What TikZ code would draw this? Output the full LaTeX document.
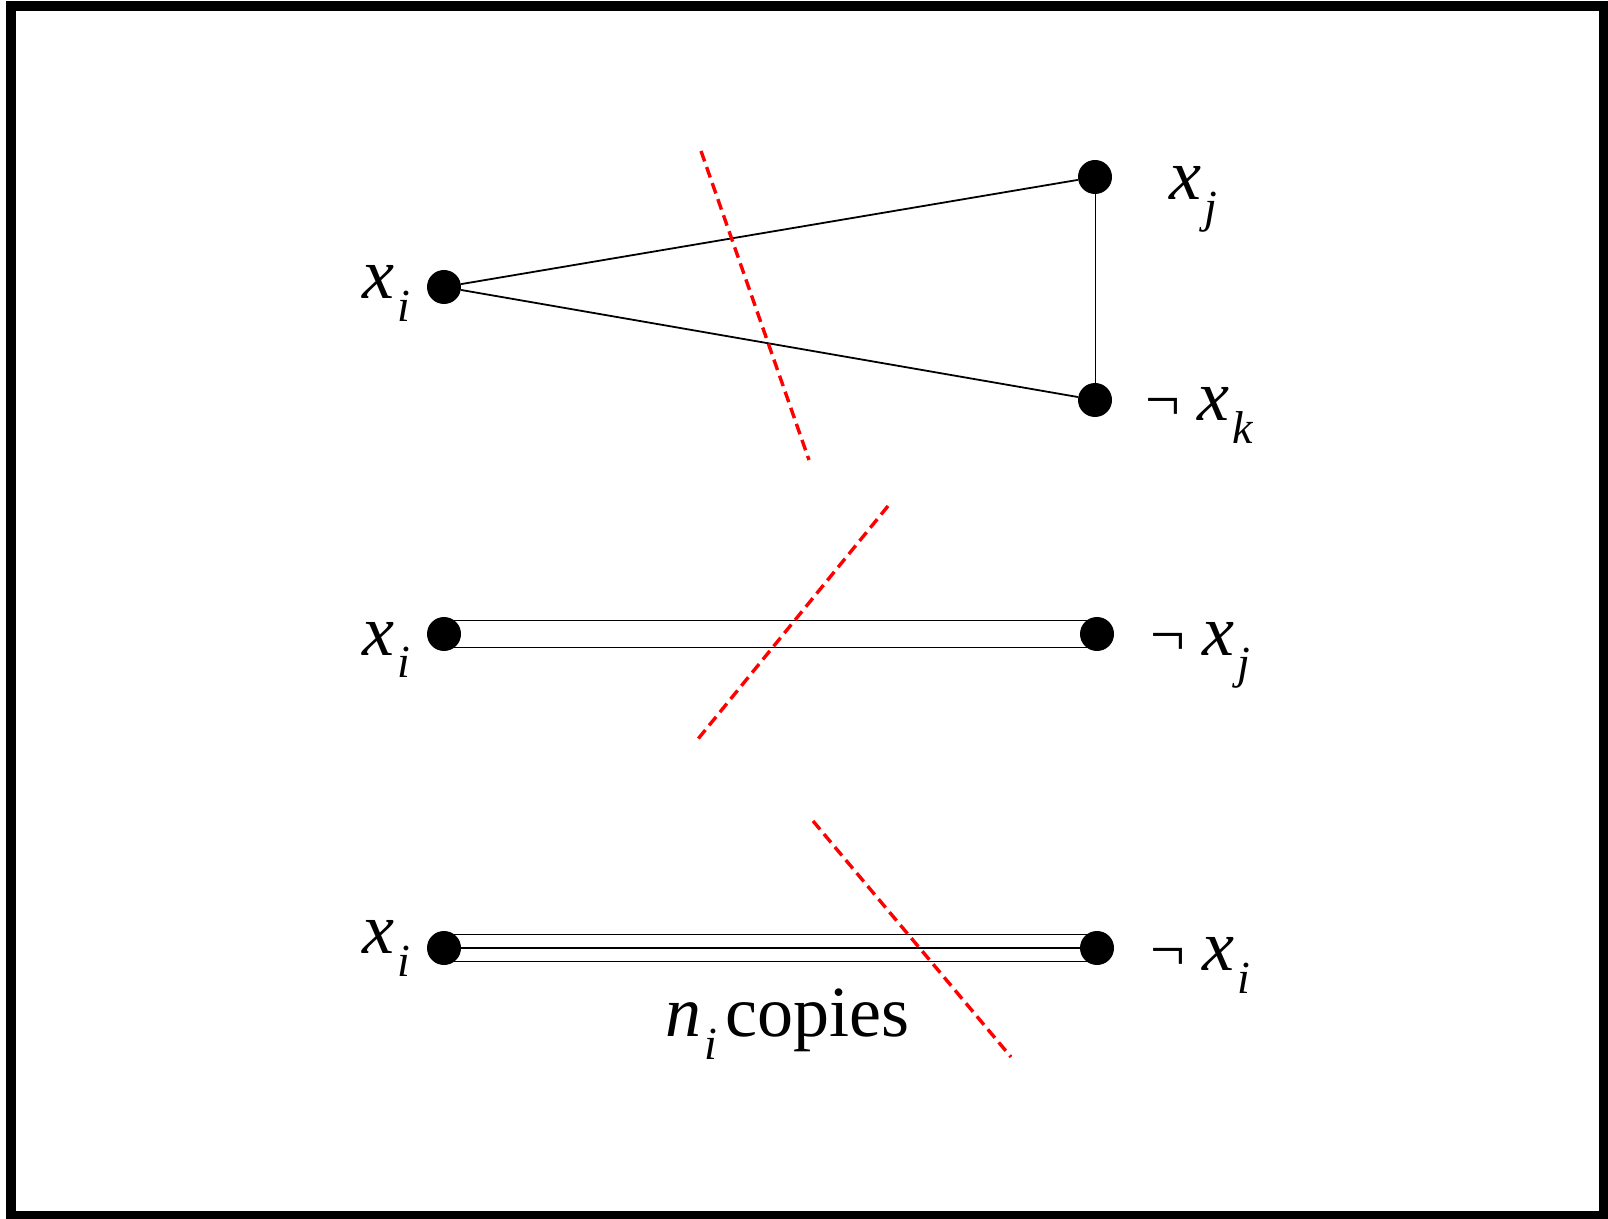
\documentclass[tikz,border=0pt]{standalone}
\usepackage{fontspec}
\setmainfont{Liberation Serif}
\usetikzlibrary{positioning, calc}
\definecolor{cutred}{RGB}{255,0,0}
\tikzset{
  vertex/.style={circle, fill=black, inner sep=0pt, minimum size=17pt},
  edge/.style={line width=0.9pt, color=black},
  thinedge/.style={line width=0.5pt, color=black},
  cut/.style={line width=1.7pt, color=cutred, dash pattern=on 5.5pt off 3pt},
  lbl/.style={anchor=base west, inner sep=0pt, font=\fontsize{36}{40}\selectfont}
}
\newcommand{\varsub}[2]{\textit{#1}\kern1.5pt\raisebox{-11.5pt}{\fontsize{23}{23}\selectfont\textit{#2}}}
\newcommand{\negsym}{{\fontsize{31}{31}\selectfont ¬}\hspace{8.6pt}}

\begin{document}
\begin{tikzpicture}[x=0.5pt, y=-0.5pt]
  \useasboundingbox (0,0) rectangle (1608,1219);
  \draw[line width=5pt] (10.5,6.5) rectangle (1604,1215.5);

  % Place vertices
  \node[vertex] (xa) at (444,287) {};
  \node[vertex] (xb) at (1095,177) {};
  \node[vertex] (xc) at (1095,400) {};
  \node[vertex] (ma) at (444,634) {};
  \node[vertex] (mb) at (1097,634) {};
  \node[vertex] (ba) at (444,948) {};
  \node[vertex] (bb) at (1097,948) {};

  % Labels
  \node[lbl] (lxa) at (362,299) {\varsub{x}{i}};
  \node[lbl] (lxb) at (1169,200) {\varsub{x}{j}};
  \node[lbl] (lxc) at (1145,421) {\negsym\varsub{x}{k}};
  \node[lbl] (lma) at (362,655) {\varsub{x}{i}};
  \node[lbl] (lmb) at (1150,656) {\negsym\varsub{x}{j}};
  \node[lbl] (lba) at (362,953) {\varsub{x}{i}};
  \node[lbl] (lbb) at (1150,970) {\negsym\varsub{x}{i}};
  \node[lbl] (copies) at (665,1036) {\varsub{n}{i}\hspace{4pt}copies};

  % Edges
  \draw[edge] (xa) -- (xb);
  \draw[edge] (xa) -- (xc);
  \draw[thinedge] (xb) -- (xc);
  \foreach \s in {6.75pt,-6.75pt}
    \draw[edge] ([yshift=\s]ma.center) -- ([yshift=\s]mb.center);
  \foreach \s in {6.75pt,0pt,-6.75pt}
    \draw[edge] ([yshift=\s]ba.center) -- ([yshift=\s]bb.center);

  % Cuts
  \coordinate (cut1s) at (701,151);
  \coordinate (cut1e) at (809,460);
  \coordinate (cut2s) at (888,506);
  \coordinate (cut2e) at (698,739);
  \coordinate (cut3s) at (813,821);
  \coordinate (cut3e) at (1011,1057);
  \draw[cut] (cut1s) -- (cut1e);
  \draw[cut] (cut2s) -- (cut2e);
  \draw[cut] (cut3s) -- (cut3e);
\end{tikzpicture}
\end{document}
